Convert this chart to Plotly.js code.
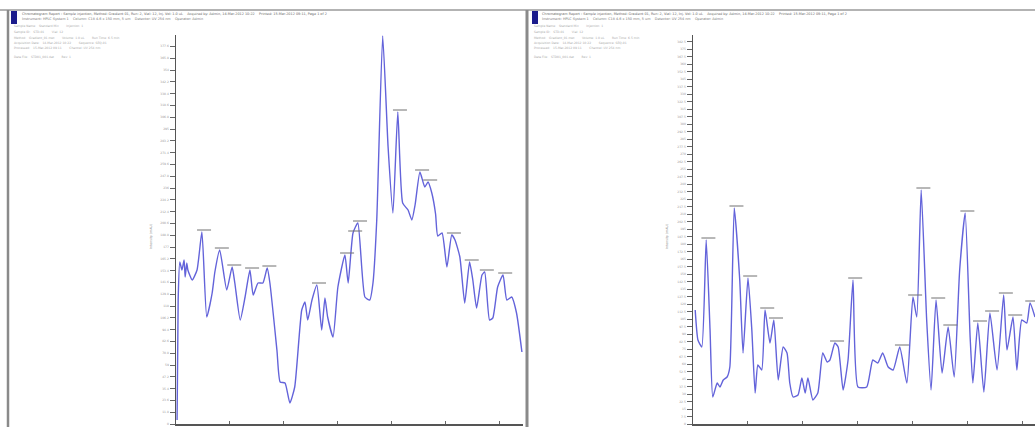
<!DOCTYPE html>
<html>
<head>
<meta charset="utf-8">
<script src="https://cdn.plot.ly/plotly-3.0.1.min.js"></script>
<style>html,body{margin:0;padding:0;background:#fff;}#chart{width:1035px;height:427px;}</style>
</head>
<body>
<div id="chart"></div>
<script>
// Left chromatogram (time in min, signal in mAU)
const leftTime = [0.02,0.04,0.07,0.11,0.15,0.17,0.20,0.22,0.30,0.39,0.48,0.57,0.67,0.72,0.81,0.94,1.04,1.09,1.19,1.28,1.37,1.43,1.52,1.61,1.69,1.74,1.87,1.93,2.02,2.11,2.20,2.33,2.39,2.44,2.52,2.61,2.70,2.76,2.81,2.91,3.00,3.13,3.19,3.28,3.37,3.50,3.59,3.65,3.72,3.83,3.93,4.02,4.11,4.20,4.30,4.37,4.43,4.52,4.61,4.67,4.74,4.81,4.85,4.93,5.02,5.11,5.17,5.26,5.35,5.44,5.50,5.57,5.67,5.72,5.81,5.87,5.96,6.06,6.13,6.22,6.31,6.41];
const leftSignal = [4,124,162,154,164,147,161,154,144,154,192,107,131,152,174,134,157,141,104,127,154,129,141,141,156,141,74,42,41,21,37,114,122,104,124,139,94,126,107,87,137,169,141,191,201,127,124,141,204,388,277,211,312,221,214,204,219,252,237,242,231,210,188,191,157,189,184,167,121,162,144,116,149,152,104,106,137,149,124,127,111,72];
const leftPeaks = [0.48,0.81,1.04,1.37,1.69,2.61,3.13,3.28,3.37,3.83,4.11,4.52,4.67,5.11,5.44,5.72,6.06];

// Right chromatogram
const rightTime = [0.04,0.09,0.16,0.24,0.31,0.36,0.44,0.49,0.55,0.62,0.67,0.75,0.85,0.91,1.00,1.07,1.13,1.18,1.25,1.31,1.40,1.47,1.55,1.64,1.71,1.76,1.82,1.91,1.98,2.04,2.09,2.18,2.27,2.36,2.44,2.49,2.58,2.64,2.73,2.82,2.91,3.00,3.16,3.27,3.36,3.45,3.55,3.64,3.76,3.89,4.00,4.07,4.15,4.25,4.33,4.42,4.53,4.64,4.75,4.85,4.95,5.04,5.09,5.18,5.29,5.40,5.53,5.65,5.71,5.82,5.89,5.98,6.07,6.13,6.22];
const rightSignal = [114,84,77,184,94,27,41,37,44,47,57,216,144,71,146,94,31,59,54,114,81,104,44,77,71,41,27,29,46,31,46,24,31,71,62,64,81,77,34,64,144,37,37,64,61,71,57,54,77,41,127,107,234,104,34,124,51,97,47,154,211,87,41,101,32,111,54,129,74,107,54,104,101,121,107];
const rightPeaks = [0.24,0.75,1.00,1.31,1.47,2.58,2.91,3.76,4.00,4.15,4.42,4.64,4.95,5.18,5.40,5.65,5.82,6.13];

const headerText = [
  "Chromatogram Report : Sample injection, Method: Gradient 01, Run: 2, Vial: 12, Inj. Vol: 1.0 uL    Acquired by: Admin, 14-Mar-2012 10:22    Printed: 15-Mar-2012 09:11, Page 1 of 2",
  "Instrument: HPLC System 1    Column: C18 4.6 x 150 mm, 5 um    Detector: UV 254 nm    Operator: Admin"
];
const infoText = [
  "Sample Name:   Standard Mix        Injection: 1",
  "Sample ID:   STD-01        Vial: 12",
  "Method:   Gradient_01.met        Volume: 1.0 uL        Run Time: 6.5 min",
  "Acquisition Date:   14-Mar-2012 10:22        Sequence: SEQ-01",
  "Processed:   15-Mar-2012 09:11        Channel: UV 254 nm",
  "Data File:   STD01_001.dat        Rev: 1"
];

const W = 1035, H = 427;
const px = v => v / W;
const py = v => 1 - v / H;

function peakMarks(times, vals, peaks) {
  const xs = [], ys = [];
  peaks.forEach(p => {
    const i = times.indexOf(p);
    if (i >= 0) { xs.push(times[i] + 0.04); ys.push(vals[i] + 2); }
  });
  return {xs, ys};
}
const lp = peakMarks(leftTime, leftSignal, leftPeaks);
const rp = peakMarks(rightTime, rightSignal, rightPeaks);

const lineStyle = {color: '#6363da', width: 1.4, shape: 'spline', smoothing: 0.5};
const markStyle = {symbol: 'line-ew', size: 10, line: {color: '#707070', width: 1}};

const data = [
  {x: leftTime, y: leftSignal, type: 'scatter', mode: 'lines', line: lineStyle, xaxis: 'x', yaxis: 'y', hoverinfo: 'none'},
  {x: lp.xs, y: lp.ys, type: 'scatter', mode: 'markers', marker: markStyle, xaxis: 'x', yaxis: 'y', hoverinfo: 'none'},
  {x: rightTime, y: rightSignal, type: 'scatter', mode: 'lines', line: lineStyle, xaxis: 'x2', yaxis: 'y2', hoverinfo: 'none'},
  {x: rp.xs, y: rp.ys, type: 'scatter', mode: 'markers', marker: markStyle, xaxis: 'x2', yaxis: 'y2', hoverinfo: 'none'}
];

const yCommon = {
  showgrid: false, zeroline: false, showline: true, linecolor: '#555', linewidth: 1.5,
  ticks: 'outside', ticklen: 5, tickcolor: '#666', tickwidth: 1,
  tickfont: {size: 3, color: '#999', family: 'DejaVu Sans'}, range: [0, 389]
};
const xCommon = {
  showgrid: false, zeroline: false, showline: true, linecolor: '#555', linewidth: 1.5,
  ticks: 'inside', ticklen: 3, tickcolor: '#666', dtick: 1, showticklabels: false
};

const shapes = [
  {type: 'line', xref: 'paper', yref: 'paper', x0: px(0), x1: px(1035), y0: py(10), y1: py(10), line: {color: '#9a9a9a', width: 1.5}},
  {type: 'line', xref: 'paper', yref: 'paper', x0: px(8), x1: px(8), y0: py(10), y1: py(427), line: {color: '#8a8a8a', width: 2.5}},
  {type: 'line', xref: 'paper', yref: 'paper', x0: px(527), x1: px(527), y0: py(10), y1: py(427), line: {color: '#8a8a8a', width: 3}},
  {type: 'rect', xref: 'paper', yref: 'paper', x0: px(11), x1: px(17), y0: py(24), y1: py(11), fillcolor: '#1c1c8c', line: {width: 0}},
  {type: 'rect', xref: 'paper', yref: 'paper', x0: px(532), x1: px(538), y0: py(24), y1: py(11), fillcolor: '#1c1c8c', line: {width: 0}}
];

const annotations = [];
[20, 540].forEach(x0 => {
  annotations.push({xref: 'paper', yref: 'paper', x: px(x0), y: py(14), xanchor: 'left', yanchor: 'middle', showarrow: false,
    text: headerText[0], font: {size: 3.4, color: '#666', family: 'DejaVu Sans'}});
  annotations.push({xref: 'paper', yref: 'paper', x: px(x0), y: py(19), xanchor: 'left', yanchor: 'middle', showarrow: false,
    text: headerText[1], font: {size: 3.4, color: '#777', family: 'DejaVu Sans'}});
  const ys = [26, 32, 38, 43, 48, 57];
  infoText.forEach((t, i) => {
    annotations.push({xref: 'paper', yref: 'paper', x: px(x0 - 8), y: py(ys[i]), xanchor: 'left', yanchor: 'middle', showarrow: false,
      text: t, font: {size: 3, color: '#aaa', family: 'DejaVu Sans'}});
  });
});
annotations.push({xref: 'paper', yref: 'paper', x: px(147), y: py(237), showarrow: false, textangle: -90,
  text: 'Intensity (mAU)', font: {size: 3.2, color: '#888', family: 'DejaVu Sans'}});
annotations.push({xref: 'paper', yref: 'paper', x: px(667), y: py(237), showarrow: false, textangle: -90,
  text: 'Intensity (mAU)', font: {size: 3.2, color: '#888', family: 'DejaVu Sans'}});

const layout = {
  width: W, height: H,
  margin: {l: 0, r: 0, t: 0, b: 0},
  paper_bgcolor: '#fff', plot_bgcolor: '#fff',
  showlegend: false,
  xaxis: Object.assign({}, xCommon, {domain: [px(176), px(523)], range: [0, 6.43], anchor: 'y'}),
  yaxis: Object.assign({}, yCommon, {domain: [py(424), py(35)], anchor: 'x', dtick: 11.8, tick0: 0}),
  xaxis2: Object.assign({}, xCommon, {domain: [px(693), px(1035)], range: [0, 6.22], anchor: 'y2'}),
  yaxis2: Object.assign({}, yCommon, {domain: [py(424), py(35)], anchor: 'x2', dtick: 7.5, tick0: 0}),
  shapes: shapes,
  annotations: annotations
};

Plotly.newPlot('chart', data, layout, {displayModeBar: false, staticPlot: true});
</script>
</body>
</html>
